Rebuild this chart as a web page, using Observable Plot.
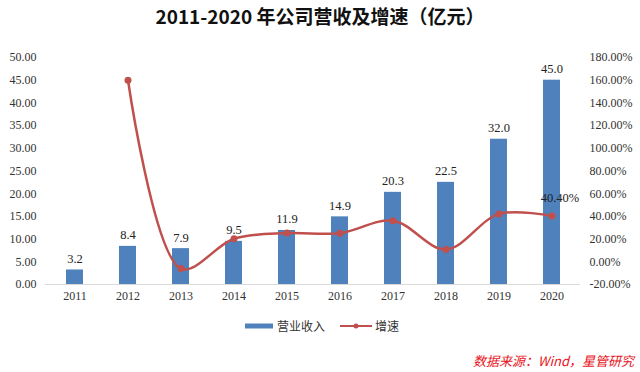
<!DOCTYPE html>
<html><head><meta charset="utf-8">
<script src="https://cdn.jsdelivr.net/npm/d3@7"></script>
<script src="https://cdn.jsdelivr.net/npm/@observablehq/plot@0.6"></script>
<style>
body{margin:0;background:#fff;width:640px;height:372px;overflow:hidden;position:relative;font-family:"Noto Sans CJK SC",sans-serif;}
#title{position:absolute;left:0;top:4px;width:640px;text-align:center;font-size:19px;font-weight:bold;color:#111;line-height:24px;}
#chart{position:absolute;left:0;top:40px;}
#legend{position:absolute;left:0;top:316px;width:640px;font-size:12px;color:#333;line-height:20px;}
#source{position:absolute;right:6px;top:351px;font-size:13px;color:#e8141c;font-style:italic;line-height:20px;}
.sw{position:absolute;}
#chart svg text{font-family:"Liberation Serif","Times New Roman",serif;}
</style></head>
<body>
<div id="title">2011-2020 年公司营收及增速（亿元）</div>
<div id="chart"></div>
<div id="legend">
  <svg width="640" height="20" style="position:absolute;left:0;top:0">
    <line x1="245" x2="273" y1="10" y2="10" stroke="#4f81bd" stroke-width="5"/>
    <line x1="340" x2="372" y1="10" y2="10" stroke="#c0504d" stroke-width="2"/>
    <circle cx="356" cy="10" r="2.5" fill="#c0504d"/>
  </svg>
  <span class="sw" style="left:277px;top:0">营业收入</span>
  <span class="sw" style="left:375px;top:0">增速</span>
</div>
<div id="source">数据来源：Wind，星管研究</div>
<script>
const years = ["2011","2012","2013","2014","2015","2016","2017","2018","2019","2020"];
const revenue = [3.2, 8.4, 7.9, 9.5, 11.9, 14.9, 20.3, 22.5, 32.0, 45.0];
const growth = [null, 160.0, -6.0, 20.3, 25.3, 25.2, 36.2, 10.8, 42.2, 40.4];
const leftTicks = [0,5,10,15,20,25,30,35,40,45,50];

// right axis: -20%..180% mapped onto left 0..50
const toLeft = g => (g + 20) / 4;
const bars = years.map((y,i)=>({year:y, rev:revenue[i]}));
const pts = years.map((y,i)=>({year:y, g:growth[i]})).filter(d=>d.g!=null);
const last = pts[pts.length-1];

const serif = "Liberation Serif, Times New Roman, serif";
const plot = Plot.plot({
  width:640, height:265,
  marginLeft:45, marginRight:60, marginTop:17, marginBottom:21,
  style:{fontFamily:serif, fontSize:"12px", color:"#333", background:"transparent"},
  x:{domain:years, paddingInner:0.68, paddingOuter:0.34, label:null},
  y:{domain:[0,50], label:null},
  marks:[
    Plot.axisY({ticks:leftTicks, tickSize:0, tickPadding:9, tickFormat:d=>d.toFixed(2), label:null, fontFamily:serif}),
    Plot.axisY({anchor:"right", ticks:leftTicks, tickSize:0, tickPadding:9, tickFormat:d=>(d*4-20).toFixed(2)+"%", label:null, textAnchor:"start", fontFamily:serif}),
    Plot.axisX({tickSize:0, tickPadding:7, label:null, fontFamily:serif}),
    Plot.ruleY([0], {stroke:"#d9d9d9"}),
    Plot.barY(bars, {x:"year", y:"rev", fill:"#4f81bd"}),
    Plot.text(bars, {x:"year", y:"rev", text:d=>d.rev.toFixed(1), dy:-11, fill:"#222", fontSize:12.5}),
    Plot.line(pts, {x:"year", y:d=>toLeft(d.g), stroke:"#c0504d", strokeWidth:2.5, curve:"catmull-rom"}),
    Plot.dot(pts, {x:"year", y:d=>toLeft(d.g), fill:"#c0504d", r:3.5}),
    Plot.text([last], {x:"year", y:d=>toLeft(d.g), text:d=>d.g.toFixed(2)+"%", dx:8, dy:-18, fill:"#222", fontSize:12.5})
  ]
});
document.getElementById("chart").appendChild(plot);
</script>
</body></html>
